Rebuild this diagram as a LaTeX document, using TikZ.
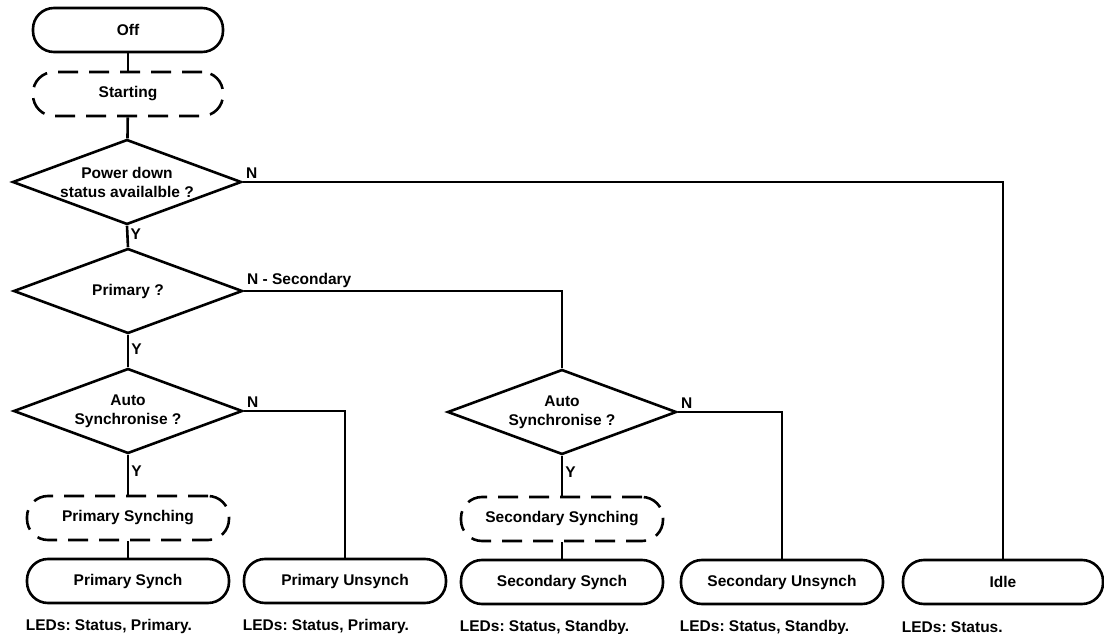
\documentclass[tikz,border=0pt]{standalone}
\usepackage{fontspec}
\setmainfont{Liberation Sans}
\usetikzlibrary{positioning,shapes.geometric}
\frenchspacing
\newcommand{\chartfont}{\fontsize{15.5}{19}\selectfont\bfseries}
\tikzset{
  state/.style={draw, line width=2.6pt, rounded corners=21pt,
                minimum width=202pt, minimum height=44pt, inner sep=0pt,
                align=center, font=\chartfont},
  transient/.style={state, dash pattern=on 20pt off 11pt},
  query/.style={diamond, draw, line width=2.6pt, aspect=2.7, inner sep=0pt,
                minimum width=229pt, minimum height=85pt, align=center,
                font=\chartfont},
  link/.style={line width=2.6pt},
  lbl/.style={font=\chartfont, inner sep=2pt},
  leds/.style={font=\chartfont, anchor=west, inner sep=0pt},
}

\begin{document}
\begin{tikzpicture}[x=1pt, y=-1pt]
  \useasboundingbox (0,0) rectangle (1104,634);
  % --- start-up
  \node[state, minimum width=190pt] (off) at (128,30) {Off};
  \node[transient, minimum width=190pt] (starting) at (128,94) {Starting};
  % --- decisions
  \node[query] (qpower) at (127,182) {Power down\\status availalble ?};
  \node[query] (qprimary) at (128,291) {Primary ?};
  \node[query] (qauto) at (128,411) {Auto\\Synchronise ?};
  \node[query] (qautosec) at (562,412) {Auto\\Synchronise ?};
  % --- synching states
  \node[transient] (psynching) at (128,518) {Primary Synching};
  \node[transient] (ssynching) at (562,519) {Secondary Synching};
  % --- final states
  \node[state] (psynch)   at (128,581) {Primary Synch};
  \node[state] (punsynch) at (345,581) {Primary Unsynch};
  \node[state] (ssynch)   at (562,582) {Secondary Synch};
  \node[state] (sunsynch) at (782,582) {Secondary Unsynch};
  \node[state, minimum width=200pt] (idle) at (1003,582) {Idle};
  % --- LED notes
  \foreach \s/\t in {psynch/{Status, Primary.}, punsynch/{Status, Primary.},
                     ssynch/{Status, Standby.}, sunsynch/{Status, Standby.},
                     idle/{Status.}}{
    \node[leds] (led-\s) at ([yshift=-22pt]\s.south west) {LEDs: \t};}
  % --- connectors
  \draw[link] (off) -- (starting);
  \draw[link] (starting) -- (qpower);
  \draw[link] (qpower.south) -- node[lbl, right, pos=0.4] {Y} (qprimary.north);
  \draw[link] (qprimary.south) -- node[lbl, right, pos=0.45] {Y} (qauto.north);
  \draw[link] (qauto.south) -- node[lbl, right, pos=0.42] {Y} (psynching.north);
  \draw[link] (psynching) -- (psynch);
  \draw[link] (qautosec.south) -- node[lbl, right, pos=0.42] {Y} (ssynching.north);
  \draw[link] (ssynching) -- (ssynch);
  \draw[link] (qpower.east) node[lbl, above right] {N} -| (idle.north);
  \draw[link] (qprimary.east) node[lbl, above right] {N - Secondary} -| (qautosec.north);
  \draw[link] (qauto.east) node[lbl, above right] {N} -| (punsynch.north);
  \draw[link] (qautosec.east) node[lbl, above right] {N} -| (sunsynch.north);
\end{tikzpicture}
\end{document}
